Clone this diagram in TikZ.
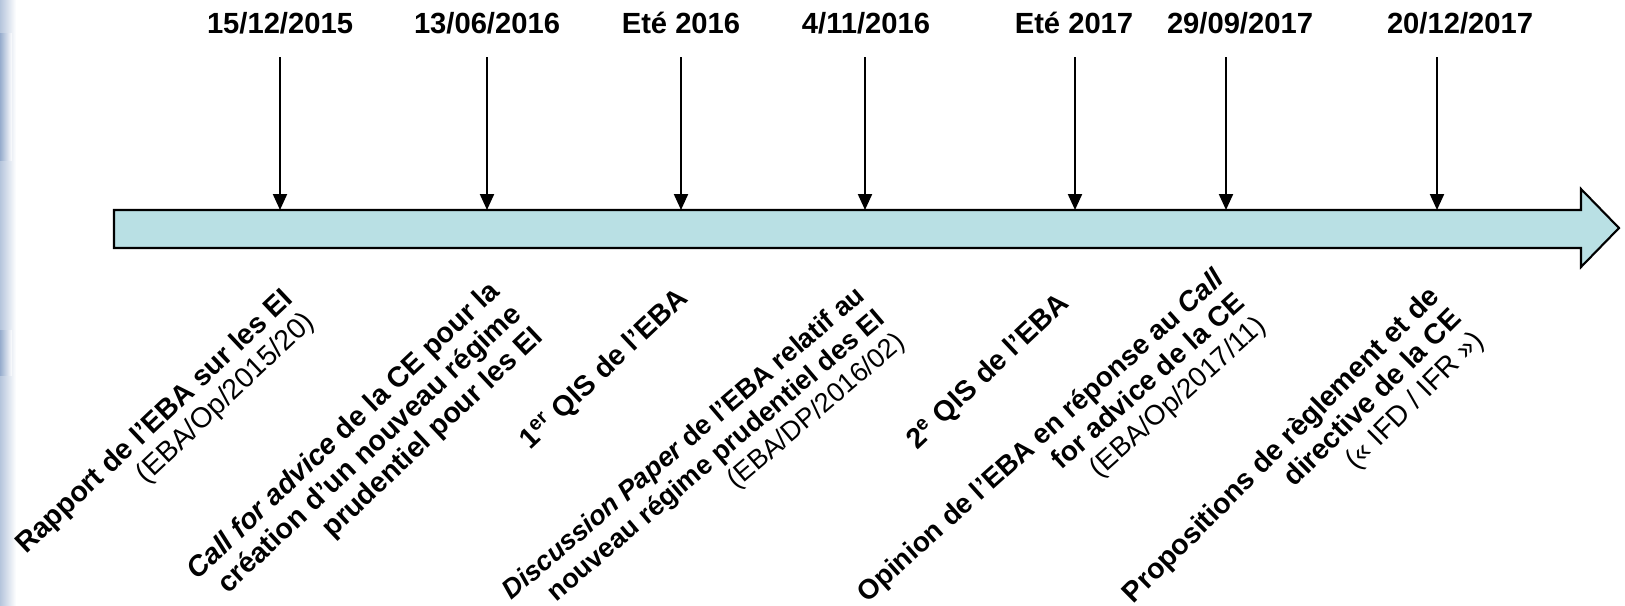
\documentclass[tikz,border=0pt]{standalone}
\usepackage{fontspec}
\setmainfont{Liberation Sans}
\usepackage{tikz}
\usetikzlibrary{graphs}
\usetikzlibrary{arrows.meta}
\usepackage{xcolor}
\definecolor{barfill}{RGB}{185,224,228}
\definecolor{edgeblue}{RGB}{150,172,205}

\tikzset{
    date/.style={font=\fontsize{8.3}{9}\selectfont\bfseries, inner sep=0pt},
    event/.style={font=\fontsize{8.1}{8.9}\selectfont\bfseries, align=right,
        inner sep=0pt, rotate=43.4, anchor=north east},
    timebar/.style={draw=black, line width=0.6pt, fill=barfill, line join=miter},
}

\begin{document}
\begin{tikzpicture}[>={Triangle[length=0.16cm,width=0.14cm]}, line width=0.6pt]
            \useasboundingbox (0,0) rectangle (16.25,6.05);
            \shade[left color=edgeblue!70, right color=white] (0,0) rectangle (0.16,6.05);
            \shade[left color=edgeblue, right color=white] (0,4.45) rectangle (0.12,5.72);
            \shade[left color=edgeblue, right color=white] (0,2.30) rectangle (0.12,2.75);

            \draw[timebar] (1.14,3.95) -- (15.81,3.95) -- (15.81,4.16) -- (16.19,3.77)
                -- (15.81,3.38) -- (15.81,3.57) -- (1.14,3.57) -- cycle;

            \node[date] (d1) at (2.800, 5.820) {15/12/2015};
            \node[date] (d2) at (4.870, 5.820) {13/06/2016};
            \node[date] (d3) at (6.810, 5.820) {Eté 2016};
            \node[date] (d4) at (8.660, 5.820) {4/11/2016};
            \node[date] (d5) at (10.740, 5.820) {Eté 2017};
            \node[date] (d6) at (12.400, 5.820) {29/09/2017};
            \node[date] (d7) at (14.600, 5.820) {20/12/2017};

            \coordinate (s1) at (2.800, 5.480);
            \coordinate (e1) at (2.800, 3.950);
            \coordinate (s2) at (4.870, 5.480);
            \coordinate (e2) at (4.870, 3.950);
            \coordinate (s3) at (6.810, 5.480);
            \coordinate (e3) at (6.810, 3.950);
            \coordinate (s4) at (8.650, 5.480);
            \coordinate (e4) at (8.650, 3.950);
            \coordinate (s5) at (10.750, 5.480);
            \coordinate (e5) at (10.750, 3.950);
            \coordinate (s6) at (12.260, 5.480);
            \coordinate (e6) at (12.260, 3.950);
            \coordinate (s7) at (14.370, 5.480);
            \coordinate (e7) at (14.370, 3.950);

            \node[event] (l1) at (2.800, 3.200) {Rapport de l’EBA sur les EI\\
                \mdseries(EBA/Op/2015/20)};
            \node[event] (l2) at (4.870, 3.280) {\itshape Call for advice\upshape{} de la CE pour la\\
                création d'un nouveau régime\\prudentiel pour les EI};
            \node[event] (l3) at (6.750, 3.210) {1\textsuperscript{er} QIS de l’EBA};
            \node[event, rotate=-3, font=\fontsize{7.7}{8.7}\selectfont\bfseries] (l4)
                at (8.540, 3.230) {\itshape Discussion Paper\upshape{} de l’EBA relatif au\\
                nouveau régime prudentiel des EI\\\mdseries(EBA/DP/2016/02)};
            \node[event] (l5) at (10.560, 3.160) {2\textsuperscript{e} QIS de l’EBA};
            \node[event, rotate=-1.5, font=\fontsize{7.9}{8.9}\selectfont\bfseries] (l6)
                at (12.120, 3.400) {Opinion de l'EBA en réponse au \itshape Call\\
                for advice\upshape{} de la CE\\\mdseries(EBA/Op/2017/11)};
            \node[event, rotate=1.5] (l7) at (14.260, 3.230) {Propositions de règlement et de\\
                directive de la CE\\\mdseries(« IFD / IFR »)};

            \graph {(s1) -> (e1)};
            \graph {(s2) -> (e2)};
            \graph {(s3) -> (e3)};
            \graph {(s4) -> (e4)};
            \graph {(s5) -> (e5)};
            \graph {(s6) -> (e6)};
            \graph {(s7) -> (e7)};
        \end{tikzpicture}
\end{document}
